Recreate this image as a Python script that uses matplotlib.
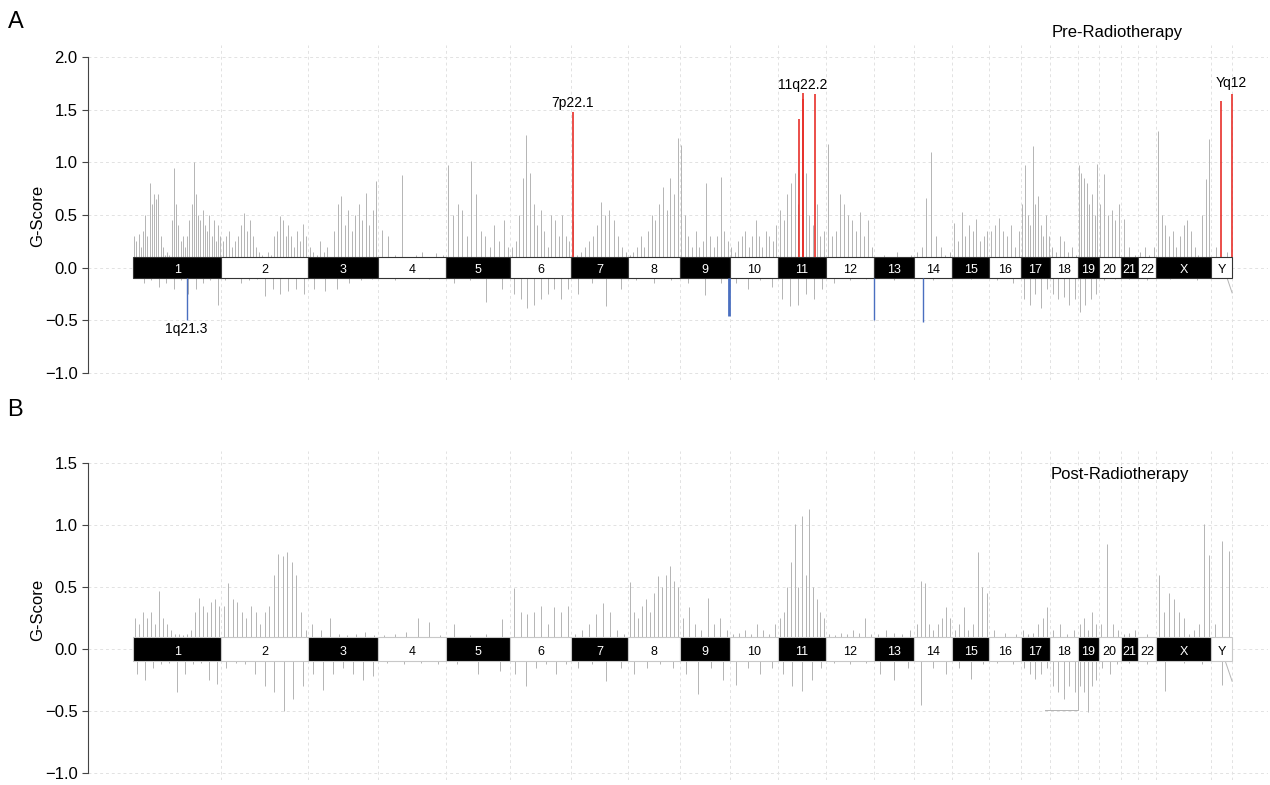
import numpy as np
import matplotlib.pyplot as plt
from matplotlib.patches import Rectangle

plt.rcParams['font.family'] = ['Liberation Sans', 'DejaVu Sans']

# chromosomes (hg19 lengths, Mb)
chroms = ['1', '2', '3', '4', '5', '6', '7', '8', '9', '10', '11', '12', '13', '14',
          '15', '16', '17', '18', '19', '20', '21', '22', 'X', 'Y']
chrom_len = [249, 243, 198, 191, 181, 171, 159, 146, 141, 136, 135, 134, 115, 107,
             103, 90, 81, 78, 59, 63, 48, 51, 155, 59]

# G-scores, in order along each chromosome
pre_gain = [
    [0.30, 0.25, 0.32, 0.20, 0.35, 0.50, 0.30, 0.80, 0.60, 0.70, 0.65, 0.70, 0.30, 0.20, 0.12, 0.15, 0.12, 0.45, 0.95, 0.60,
     0.40, 0.25, 0.30, 0.20, 0.30, 0.45, 0.60, 1.00, 0.70, 0.50, 0.45, 0.55, 0.40, 0.35, 0.50, 0.30, 0.45, 0.25, 0.40, 0.30],
    [0.25, 0.30, 0.35, 0.20, 0.25, 0.30, 0.40, 0.52, 0.35, 0.45, 0.30, 0.20, 0.15, 0.12, 0.10, 0.15, 0.12, 0.30, 0.35, 0.49,
     0.45, 0.30, 0.40, 0.30, 0.20, 0.35, 0.25, 0.41, 0.30],
    [0.20, 0.15, 0.12, 0.25, 0.15, 0.20, 0.10, 0.35, 0.60, 0.68, 0.40, 0.55, 0.35, 0.50, 0.60, 0.45, 0.71, 0.40, 0.55, 0.82],
    [0.36, 0.30, 0.12, 0.88, 0.10, 0.12, 0.15, 0.10, 0.14, 0.12],
    [0.97, 0.50, 0.60, 0.55, 0.30, 1.01, 0.70, 0.35, 0.30, 0.20, 0.40, 0.25, 0.45, 0.20],
    [0.20, 0.25, 0.50, 0.85, 1.26, 0.90, 0.60, 0.40, 0.55, 0.35, 0.20, 0.50, 0.45, 0.30, 0.50, 0.30, 0.25],
    [0.44, 0.12, 0.15, 0.20, 0.25, 0.30, 0.40, 0.62, 0.50, 0.55, 0.45, 0.30, 0.20, 0.15],
    [0.12, 0.15, 0.20, 0.30, 0.20, 0.35, 0.50, 0.45, 0.60, 0.77, 0.55, 0.85, 0.70, 1.23],
    [1.16, 0.50, 0.30, 0.20, 0.35, 0.20, 0.25, 0.80, 0.30, 0.20, 0.30, 0.86, 0.35, 0.25],
    [0.20, 0.15, 0.25, 0.30, 0.35, 0.20, 0.30, 0.45, 0.30, 0.20, 0.35, 0.30, 0.25, 0.40],
    [0.55, 0.45, 0.70, 0.80, 0.90, 0.60, 1.31, 0.90, 0.50, 0.40, 0.60, 0.30, 0.35],
    [1.17, 0.30, 0.35, 0.70, 0.60, 0.50, 0.45, 0.35, 0.53, 0.30, 0.45, 0.20],
    [0.10, 0.12, 0.08, 0.15, 0.10, 0.12],
    [0.15, 0.20, 0.66, 1.10, 0.30, 0.20, 0.12, 0.15],
    [0.42, 0.25, 0.53, 0.30, 0.40, 0.35, 0.46, 0.25, 0.30, 0.35],
    [0.35, 0.40, 0.47, 0.35, 0.30, 0.40, 0.20, 0.35],
    [0.60, 0.97, 0.50, 0.40, 1.15, 0.60, 0.68, 0.40, 0.30, 0.50, 0.30],
    [0.20, 0.15, 0.30, 0.25, 0.15, 0.20, 0.12],
    [0.97, 0.90, 0.85, 0.80, 0.60, 0.70, 0.50, 0.98],
    [0.60, 0.89, 0.50, 0.55, 0.45, 0.60],
    [0.46, 0.20, 0.12],
    [0.15, 0.20, 0.12, 0.20],
    [1.30, 0.50, 0.40, 0.30, 0.35, 0.20, 0.30, 0.40, 0.45, 0.35, 0.20, 0.12, 0.50, 0.84, 1.22],
    [0.20, 0.15],
]
pre_loss = [
    [-0.10, -0.15, -0.12, -0.18, -0.15, -0.20, -0.12, -0.25, -0.20, -0.15, -0.12, -0.35],
    [-0.12, -0.10, -0.15, -0.12, -0.11, -0.27, -0.20, -0.25, -0.22, -0.20, -0.25],
    [-0.20, -0.22, -0.20, -0.15, -0.12, -0.11],
    [-0.12, -0.11],
    [-0.15, -0.12, -0.33, -0.20],
    [-0.25, -0.30, -0.38, -0.35, -0.30, -0.25, -0.20, -0.30, -0.20],
    [-0.25, -0.15, -0.36, -0.20],
    [-0.12, -0.15, -0.12],
    [-0.15, -0.26, -0.15],
    [-0.15, -0.20, -0.12, -0.18],
    [-0.30, -0.36, -0.35, -0.25, -0.30, -0.20],
    [-0.15, -0.12, -0.11],
    [-0.12],
    [-0.12],
    [-0.11],
    [-0.12, -0.15],
    [-0.30, -0.35, -0.25, -0.38, -0.20],
    [-0.25, -0.30, -0.28, -0.35, -0.30],
    [-0.42, -0.35, -0.30, -0.25],
    [-0.12, -0.11],
    [-0.11],
    [-0.12],
    [-0.11, -0.12],
    [],
]
post_gain = [
    [0.25, 0.20, 0.30, 0.25, 0.30, 0.20, 0.47, 0.25, 0.20, 0.15, 0.12, 0.12, 0.11, 0.12, 0.15, 0.30, 0.41, 0.35, 0.30, 0.38,
     0.40, 0.35],
    [0.35, 0.53, 0.40, 0.38, 0.30, 0.25, 0.35, 0.30, 0.20, 0.30, 0.35, 0.60, 0.77, 0.75, 0.78, 0.70, 0.60, 0.30, 0.15],
    [0.20, 0.15, 0.25, 0.12, 0.11, 0.12, 0.14, 0.11],
    [0.11, 0.12, 0.14, 0.25, 0.22, 0.11],
    [0.20, 0.11, 0.12, 0.24],
    [0.49, 0.30, 0.28, 0.30, 0.35, 0.20, 0.34, 0.30, 0.35],
    [0.12, 0.15, 0.20, 0.28, 0.37, 0.30, 0.15, 0.12],
    [0.54, 0.30, 0.25, 0.35, 0.40, 0.30, 0.45, 0.59, 0.50, 0.60, 0.67, 0.55, 0.50],
    [0.25, 0.34, 0.20, 0.15, 0.41, 0.20, 0.25, 0.15],
    [0.12, 0.13, 0.15, 0.12, 0.20, 0.15, 0.12, 0.20],
    [0.25, 0.30, 0.50, 0.70, 1.01, 0.50, 1.07, 0.60, 1.13, 0.50, 0.40, 0.30, 0.25],
    [0.12, 0.11, 0.13, 0.12, 0.15, 0.13, 0.25, 0.12],
    [0.12, 0.15, 0.13, 0.12, 0.15],
    [0.20, 0.55, 0.53, 0.20, 0.15, 0.20, 0.25, 0.34, 0.25],
    [0.15, 0.20, 0.34, 0.15, 0.20, 0.78, 0.50, 0.45],
    [0.15, 0.13, 0.12],
    [0.15, 0.12, 0.13, 0.20, 0.25, 0.34],
    [0.15, 0.20, 0.12, 0.15],
    [0.20, 0.25, 0.15, 0.30, 0.20],
    [0.20, 0.85, 0.20, 0.15],
    [0.12, 0.13, 0.15],
    [0.12],
    [0.60, 0.30, 0.45, 0.40, 0.30, 0.25, 0.12, 0.15, 0.20, 1.01, 0.76],
    [0.20, 0.87, 0.79],
]
post_loss = [
    [-0.20, -0.25, -0.15, -0.12, -0.11, -0.35, -0.20, -0.12, -0.11, -0.25, -0.28],
    [-0.15, -0.11, -0.12, -0.20, -0.30, -0.35, -0.50, -0.40, -0.30],
    [-0.20, -0.33, -0.20, -0.15, -0.20, -0.25, -0.22],
    [-0.11, -0.12, -0.11, -0.12],
    [-0.12, -0.20, -0.18],
    [-0.20, -0.30, -0.15, -0.12, -0.20, -0.12],
    [-0.15, -0.12, -0.26, -0.15],
    [-0.20, -0.15, -0.12, -0.15],
    [-0.20, -0.36, -0.15, -0.25],
    [-0.29, -0.15, -0.20, -0.15],
    [-0.20, -0.30, -0.34, -0.25, -0.15],
    [-0.11, -0.12, -0.11],
    [-0.20, -0.25, -0.15],
    [-0.45, -0.15, -0.20],
    [-0.15, -0.24, -0.12],
    [-0.11, -0.12],
    [-0.15, -0.20, -0.24, -0.20, -0.15],
    [-0.30, -0.35, -0.40, -0.30, -0.35],
    [-0.30, -0.35, -0.51, -0.30, -0.25],
    [-0.15, -0.20, -0.12],
    [-0.11],
    [-0.12],
    [-0.34, -0.11, -0.12],
    [-0.29],
]

# significant peaks (pre-radiotherapy)
amp_chrom = ['7', '11', '11', '11', '11', 'Y', 'Y']
amp_pos = [5, 59, 70, 71, 104, 28, 59]
amp_val = [1.48, 1.41, 1.66, 1.60, 1.65, 1.58, 1.65]
del_chrom = ['1', '9', '13', '14']
del_pos = [151, 139, 2, 25]
del_val = [-0.50, -0.46, -0.50, -0.52]
del_width = [1.0, 2.0, 1.0, 1.0]
peak_labels = ['1q21.3', '7p22.1', '11q22.2', 'Yq12']
label_chrom = ['1', '7', '11', 'Y']
label_pos = [151, 5, 70, 57]
label_val = [-0.52, 1.50, 1.67, 1.69]

# trailing segments
pre_tail_chrom, pre_tail_pos, pre_tail_val = ['Y', 'Y'], [45, 59], [-0.10, -0.24]
post_tail_chrom, post_tail_pos, post_tail_val = ['Y', 'Y'], [40, 59], [-0.10, -0.26]
post_step_chrom, post_step_pos, post_step_val = ['17', '18', '18'], [67, 78, 78], [-0.49, -0.49, -0.10]

starts = np.concatenate([[0], np.cumsum(chrom_len)[:-1]])
total = sum(chrom_len)
grey = '#b4b4b4'


def gpos(ch, pos):
    return [starts[chroms.index(c)] + p for c, p in zip(ch, pos)]


def spikes(values):
    xs, ys = [], []
    for i, vals in enumerate(values):
        n = len(vals)
        for j, v in enumerate(vals):
            xs.append(starts[i] + (j + 0.5) / n * chrom_len[i])
            ys.append(v)
    return xs, ys


def draw_panel(ax, gain, loss, ylo, yhi, top, edge):
    for s in ['top', 'right', 'bottom']:
        ax.spines[s].set_visible(False)
    ax.spines['left'].set_bounds(-1.0, top)
    ax.spines['left'].set_color('#444444')
    ax.set_xlim(-126.6, 3193.5)
    ax.set_ylim(ylo, yhi)
    ax.set_xticks([])
    ticks = np.arange(-1.0, top + 0.01, 0.5)
    ax.set_yticks(ticks)
    ax.set_yticklabels(['%.1f' % t if t >= 0 else '\u2212%.1f' % -t for t in ticks])
    ax.tick_params(axis='y', labelsize=12, length=4, color='#444444')
    for t in ticks:
        ax.axhline(t, color='#e2e2e2', lw=0.7, ls=(0, (3, 3)), zorder=0)
    for b in list(starts[1:]) + [total]:
        ax.axvline(b, color='#e2e2e2', lw=0.7, ls=(0, (3, 3)), zorder=0)
    x, y = spikes(gain)
    ax.vlines(x, 0, y, color=grey, lw=0.7, zorder=2)
    x, y = spikes(loss)
    ax.vlines(x, 0, y, color=grey, lw=0.7, zorder=2)
    for i, c in enumerate(chroms):
        fc = 'black' if i % 2 == 0 else 'white'
        ax.add_patch(Rectangle((starts[i], -0.1), chrom_len[i], 0.2, facecolor=fc,
                               edgecolor=edge, lw=0.8, zorder=3))
        ax.text(starts[i] + chrom_len[i] / 2, -0.02, c, ha='center', va='center', fontsize=9,
                color='white' if fc == 'black' else 'black', zorder=4)


fig = plt.figure(figsize=(12.7, 7.85), dpi=100)
ax1 = fig.add_axes([0.0693, 0.516, 0.929, 0.4268])
ax2 = fig.add_axes([0.0693, 0.0064, 0.929, 0.419])

draw_panel(ax1, pre_gain, pre_loss, -1.066, 2.114, 2.0, '#333333')
ax1.vlines(gpos(amp_chrom, amp_pos), 0.1, amp_val, color='#e8302a', lw=1.2, zorder=4)
ax1.vlines(gpos(del_chrom, del_pos), -0.1, del_val, color='#4a6fc0', lw=del_width, zorder=4)
ax1.plot(gpos(pre_tail_chrom, pre_tail_pos), pre_tail_val, color=grey, lw=0.7, zorder=2)
for lab, c, p, v in zip(peak_labels, label_chrom, label_pos, label_val):
    ax1.text(gpos([c], [p])[0], v, lab, ha='center', va='top' if v < 0 else 'bottom', fontsize=10)

draw_panel(ax2, post_gain, post_loss, -1.056, 1.597, 1.5, '#c8c8c8')
ax2.plot(gpos(post_tail_chrom, post_tail_pos), post_tail_val, color=grey, lw=0.7, zorder=2)
ax2.plot(gpos(post_step_chrom, post_step_pos), post_step_val, color=grey, lw=0.7, zorder=2)

fig.text(0.030, 0.725, 'G-Score', rotation=90, ha='center', va='center', fontsize=12)
fig.text(0.030, 0.223, 'G-Score', rotation=90, ha='center', va='center', fontsize=12)
fig.text(0.006, 0.972, 'A', ha='left', va='center', fontsize=17)
fig.text(0.006, 0.478, 'B', ha='left', va='center', fontsize=17)
fig.text(0.880, 0.959, 'Pre-Radiotherapy', ha='center', va='center', fontsize=12)
fig.text(0.882, 0.395, 'Post-Radiotherapy', ha='center', va='center', fontsize=12)

fig.savefig('out.png', dpi=100)
